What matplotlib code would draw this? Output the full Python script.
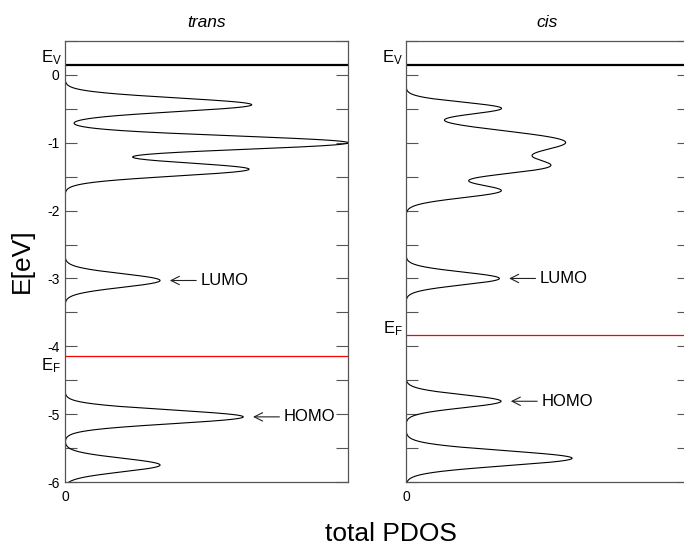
import numpy as np
import matplotlib
matplotlib.use("Agg")
import matplotlib.pyplot as plt
from matplotlib.ticker import MultipleLocator

# ---- data -------------------------------------------------------------
# molecular levels (eV), their PDOS weights and Gaussian broadening widths
trans_levels = [-0.44, -1.00, -1.39, -3.03, -5.04, -5.75]
trans_weights = [0.66, 1.00, 0.65, 0.336, 0.63, 0.336]
trans_widths = [0.10, 0.10, 0.10, 0.10, 0.10, 0.10]
trans_vacuum = 0.15
trans_fermi = -4.14
trans_lumo = -3.03
trans_homo = -5.04

cis_levels = [-0.49, -0.99, -1.36, -1.71, -3.00, -4.81, -5.65]
cis_weights = [0.33, 0.56, 0.45, 0.33, 0.33, 0.336, 0.587]
cis_widths = [0.088, 0.17, 0.12, 0.10, 0.095, 0.095, 0.11]
cis_vacuum = 0.15
cis_fermi = -3.84
cis_lumo = -3.00
cis_homo = -4.81

energy_range = (-6.0, 0.5)
panel_titles = ["trans", "cis"]
x_ticks = [0]
x_tick_labels = ["0"]

plt.rcParams["font.family"] = ["Liberation Sans", "DejaVu Sans"]
plt.rcParams["axes.unicode_minus"] = False
plt.rcParams["mathtext.fontset"] = "custom"
plt.rcParams["mathtext.rm"] = "Liberation Sans"
plt.rcParams["mathtext.it"] = "Liberation Sans:italic"


def broadened_dos(energy, levels, weights, widths):
    dos = np.zeros_like(energy)
    for e0, w, s in zip(levels, weights, widths):
        dos += w * np.exp(-0.5 * ((energy - e0) / s) ** 2)
    return dos


energy = np.linspace(energy_range[0], energy_range[1], 3000)

fig = plt.figure(figsize=(6.84, 5.45), dpi=100)
ax_t = fig.add_axes([65 / 684, 63 / 545, 283 / 684, 441 / 545])
ax_c = fig.add_axes([406 / 684, 63 / 545, 283 / 684, 441 / 545])

spine_color = "#555555"

panels = [
    (ax_t, trans_levels, trans_weights, trans_widths, trans_vacuum, trans_fermi,
     trans_lumo, trans_homo, "below"),
    (ax_c, cis_levels, cis_weights, cis_widths, cis_vacuum, cis_fermi,
     cis_lumo, cis_homo, "above"),
]

for (ax, lv, wt, wd, ev, ef, lumo, homo, ef_side), title in zip(panels, panel_titles):
    dos = broadened_dos(energy, lv, wt, wd)
    ax.plot(dos, energy, color="black", lw=0.8, clip_on=True)
    ax.axhline(ev, color="black", lw=1.6)
    ax.axhline(ef, color="red", lw=0.9)

    ax.set_xlim(0, 1)
    ax.set_ylim(*energy_range)
    ax.set_title(title, style="italic", fontsize=12.5, pad=10)

    ax.yaxis.set_major_locator(MultipleLocator(1))
    ax.yaxis.set_minor_locator(MultipleLocator(0.5))
    ax.tick_params(axis="y", which="both", direction="in", length=8.5,
                   width=0.8, left=True, right=True, color=spine_color,
                   labelsize=10, pad=4)
    ax.set_xticks(x_ticks)
    ax.set_xticklabels(x_tick_labels)
    ax.tick_params(axis="x", length=0, pad=6, labelsize=10)
    for sp in ax.spines.values():
        sp.set_color(spine_color)
        sp.set_linewidth(0.9)

    # level labels next to the axis
    ax.annotate(r"$\mathregular{E_V}$", xy=(0, ev),
                xycoords=("axes fraction", "data"), xytext=(-2, -1.5),
                textcoords="offset points", ha="right", va="bottom",
                fontsize=12, annotation_clip=False)
    if ef_side == "below":
        ax.annotate(r"$\mathregular{E_F}$", xy=(0, ef),
                    xycoords=("axes fraction", "data"), xytext=(-3, 0),
                    textcoords="offset points", ha="right", va="top",
                    fontsize=12, annotation_clip=False)
    else:
        ax.annotate(r"$\mathregular{E_F}$", xy=(0, ef),
                    xycoords=("axes fraction", "data"), xytext=(-2, -2),
                    textcoords="offset points", ha="right", va="bottom",
                    fontsize=12, annotation_clip=False)

    # frontier orbital markers
    for name, e_orb in (("LUMO", lumo), ("HOMO", homo)):
        peak = broadened_dos(np.array([e_orb]), lv, wt, wd)[0]
        ax.annotate(name, xy=(peak, e_orb), xytext=(29, 0),
                    textcoords="offset points", ha="left", va="center",
                    fontsize=12,
                    arrowprops=dict(arrowstyle="->,head_length=0.5,head_width=0.25",
                                    lw=0.8, color="#222222", shrinkA=1,
                                    shrinkB=7, relpos=(0, 0.5)))

ax_c.tick_params(axis="y", labelleft=False)

fig.text(22 / 684, 1 - 261 / 545, "E[eV]", rotation=90, fontsize=19,
         ha="center", va="center")
fig.text(391 / 684, 1 - 541 / 545, "total PDOS", fontsize=19,
         ha="center", va="baseline")

fig.savefig("out.png", dpi=100, facecolor="white")
